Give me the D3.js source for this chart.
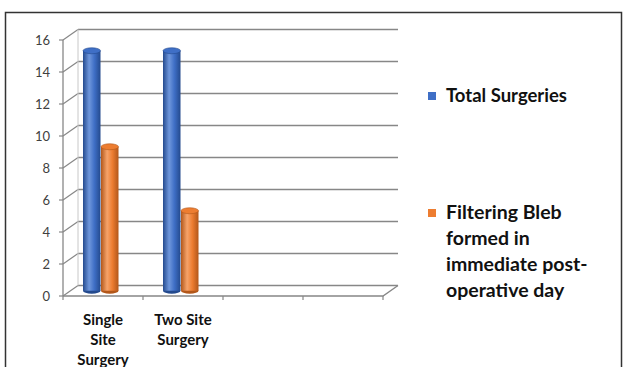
<!DOCTYPE html>
<html>
<head>
<meta charset="utf-8">
<script src="https://cdn.jsdelivr.net/npm/d3@7"></script>
<style>
  body { margin: 0; background: #fff; }
  svg { display: block; }
  .tick-lbl { font-family: Lato, "Open Sans", sans-serif; font-size: 13px; fill: #404040; }
  .cat-lbl { font-family: Lato, "Open Sans", sans-serif; font-size: 15px; font-weight: bold; fill: #111; }
  .leg-lbl { font-family: Lato, "Open Sans", sans-serif; font-weight: bold; fill: #111; }
</style>
</head>
<body>
<svg id="chart" width="625" height="367"></svg>
<script>
// data
var categories = [["Single", "Site", "Surgery"], ["Two Site", "Surgery"], [], []];
var series = ["Total Surgeries", "Filtering Bleb formed in immediate post-operative day"];
var totalSurgeries = [15, 15];
var filteringBleb = [9, 5];
var yTicks = [0, 2, 4, 6, 8, 10, 12, 14, 16];

var legendLines = [["Total Surgeries"], ["Filtering Bleb", "formed in", "immediate post-", "operative day"]];
var colors = ["#3f6fc6", "#ed7d31"];
var darks = ["#244a8e", "#b2571a"];
var lights = ["#6f97dc", "#f6a36a"];

var svg = d3.select("#chart");
var defs = svg.append("defs");

// outer frame
svg.append("rect")
  .attr("x", 5.5).attr("y", 12.5)
  .attr("width", 616).attr("height", 370)
  .attr("fill", "none").attr("stroke", "#333").attr("stroke-width", 1.5);

var dx = 15, dy = -10.5;   // depth of 3d box
var left = 63, right = 383;

var y = d3.scaleLinear().domain([0, 16]).range([296, 40]);
var x = d3.scaleBand().domain(d3.range(categories.length)).range([left, right]);
var x1 = d3.scaleBand().domain(d3.range(series.length)).range([20, 56]);

var g = svg.append("g");
var gridColor = "#878787";

// back wall gridlines
g.selectAll(".grid")
  .data(yTicks)
  .enter().append("line")
  .attr("x1", left + dx).attr("x2", right + dx)
  .attr("y1", function(d) { return y(d) + dy; })
  .attr("y2", function(d) { return y(d) + dy; })
  .attr("stroke", gridColor).attr("stroke-width", 1.4);

// side wall diagonals
g.selectAll(".diag")
  .data(yTicks)
  .enter().append("line")
  .attr("x1", left).attr("x2", left + dx)
  .attr("y1", function(d) { return y(d); })
  .attr("y2", function(d) { return y(d) + dy; })
  .attr("stroke", gridColor).attr("stroke-width", 1.2);

// back edge of side wall
g.append("line")
  .attr("x1", left + dx).attr("x2", left + dx)
  .attr("y1", y(16) + dy).attr("y2", y(0) + dy)
  .attr("stroke", "#c8c8c8").attr("stroke-width", 1);

// floor front edge + right edge
g.append("path")
  .attr("d", "M" + left + "," + y(0) + "L" + right + "," + y(0) + "L" + (right + dx) + "," + (y(0) + dy))
  .attr("fill", "none").attr("stroke", gridColor).attr("stroke-width", 1.4);

// front y axis
g.append("line")
  .attr("x1", left).attr("x2", left)
  .attr("y1", y(16)).attr("y2", y(0))
  .attr("stroke", gridColor).attr("stroke-width", 1.3);

g.selectAll(".ytick")
  .data(yTicks)
  .enter().append("line")
  .attr("x1", left - 4).attr("x2", left)
  .attr("y1", function(d) { return y(d); })
  .attr("y2", function(d) { return y(d); })
  .attr("stroke", gridColor).attr("stroke-width", 1.2);

g.selectAll(".tick-lbl")
  .data(yTicks)
  .enter().append("text")
  .attr("class", "tick-lbl")
  .attr("x", 50)
  .attr("y", function(d) { return y(d); })
  .attr("dy", "0.35em")
  .attr("text-anchor", "end")
  .text(function(d) { return d; });

// category ticks on floor
g.selectAll(".xtick")
  .data(d3.range(categories.length + 1))
  .enter().append("line")
  .attr("x1", function(i) { return left + i * x.bandwidth(); })
  .attr("x2", function(i) { return left + i * x.bandwidth(); })
  .attr("y1", y(0)).attr("y2", y(0) + 4)
  .attr("stroke", gridColor).attr("stroke-width", 1.2);

// category labels
categories.forEach(function(lines, i) {
  var t = g.append("text").attr("class", "cat-lbl")
    .attr("text-anchor", "middle");
  lines.forEach(function(l, j) {
    t.append("tspan")
      .attr("x", x(i) + x.bandwidth() / 2)
      .attr("y", 325 + j * 20)
      .text(l);
  });
});

// cylinder gradients
colors.forEach(function(c, s) {
  var gr = defs.append("linearGradient").attr("id", "cyl" + s)
    .attr("x1", "0%").attr("x2", "100%").attr("y1", "0%").attr("y2", "0%");
  gr.append("stop").attr("offset", "0%").attr("stop-color", darks[s]);
  gr.append("stop").attr("offset", "35%").attr("stop-color", lights[s]);
  gr.append("stop").attr("offset", "65%").attr("stop-color", c);
  gr.append("stop").attr("offset", "100%").attr("stop-color", darks[s]);
});

// bars (cylinders) sit half way into the depth
var barData = [];
totalSurgeries.forEach(function(v, i) { barData.push({cat: i, s: 0, v: v}); });
filteringBleb.forEach(function(v, i) { barData.push({cat: i, s: 1, v: v}); });

var bw = x1.bandwidth() - 0.5;
var ry = 3;
var off = dy / 2;

var bars = g.selectAll(".bar")
  .data(barData)
  .enter().append("g").attr("class", "bar");

bars.append("ellipse")
  .attr("cx", function(d) { return x(d.cat) + x1(d.s) + bw / 2; })
  .attr("cy", y(0) + off)
  .attr("rx", bw / 2).attr("ry", ry)
  .attr("fill", function(d) { return darks[d.s]; });

bars.append("rect")
  .attr("x", function(d) { return x(d.cat) + x1(d.s); })
  .attr("y", function(d) { return y(d.v) + off; })
  .attr("width", bw)
  .attr("height", function(d) { return y(0) - y(d.v); })
  .attr("fill", function(d) { return "url(#cyl" + d.s + ")"; });

bars.append("ellipse")
  .attr("cx", function(d) { return x(d.cat) + x1(d.s) + bw / 2; })
  .attr("cy", function(d) { return y(d.v) + off; })
  .attr("rx", bw / 2).attr("ry", ry)
  .attr("fill", function(d) { return colors[d.s]; })
  .attr("stroke", function(d) { return darks[d.s]; })
  .attr("stroke-width", 0.6);

// legend
var legY = [96, 213];
legendLines.forEach(function(lines, s) {
  g.append("rect")
    .attr("x", 428).attr("y", legY[s] - 4)
    .attr("width", 8).attr("height", 8)
    .attr("fill", colors[s]);
  var t = g.append("text").attr("class", "leg-lbl")
    .style("font-size", s === 0 ? "18.5px" : "19.5px");
  lines.forEach(function(l, j) {
    t.append("tspan")
      .attr("x", 446)
      .attr("y", legY[s] + 6 + j * 26)
      .text(l);
  });
});
</script>
</body>
</html>
